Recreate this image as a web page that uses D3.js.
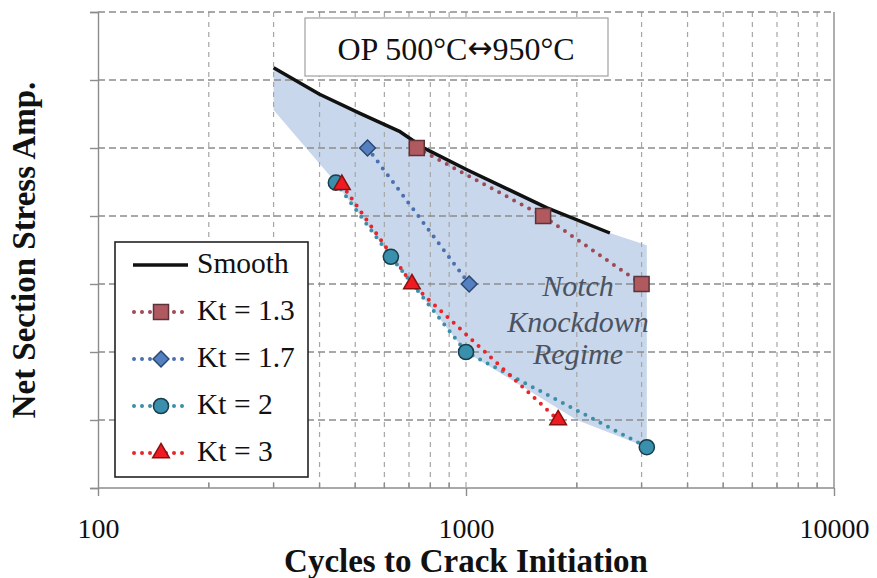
<!DOCTYPE html>
<html><head><meta charset="utf-8">
<script src="https://cdn.jsdelivr.net/npm/d3@7"></script>
<style>body{margin:0;background:#fff}svg{display:block}</style>
</head><body><svg id="c" width="877" height="578"></svg>
<script>
// ---- data ----
const xTickLabels = [100, 1000, 10000];
const yTicks = [0, 1, 2, 3, 4, 5, 6, 7];
const smoothN = [300, 400, 515, 662, 774, 1006, 1660, 2460];
const smoothS = [6.18, 5.79, 5.51, 5.24, 4.99, 4.68, 4.12, 3.75];
const kt13N = [735, 1620, 3000];
const kt13S = [5.0, 4.0, 3.0];
const kt17N = [540, 1020];
const kt17S = [5.0, 3.0];
const kt2N = [443, 625, 1000, 3100];
const kt2S = [4.49, 3.40, 2.0, 0.60];
const kt3N = [460, 713, 1780];
const kt3S = [4.46, 3.0, 1.0];
const regimeN = [300, 300, 443, 625, 1000, 2000, 3100, 3100, 2460, 1660, 1006, 774, 662, 515, 400];
const regimeS = [6.18, 5.56, 4.49, 3.40, 2.0, 1.0, 0.60, 3.57, 3.75, 4.12, 4.68, 4.99, 5.24, 5.51, 5.79];
const seriesNames = ["Smooth", "Kt = 1.3", "Kt = 1.7", "Kt = 2", "Kt = 3"];
const titleParts = ["OP 500°C", "↔", "950°C"];
const regimeText = ["Notch", "Knockdown", "Regime"];
const xLabel = "Cycles to Crack Initiation";
const yLabel = "Net Section Stress Amp.";

const svg = d3.select("#c");
const L = 98, R = 834, T = 12, B = 488;
const x = d3.scaleLog().domain([100, 10000]).range([L, R]);
const y = d3.scaleLinear().domain([0, 7]).range([B, T]);
const serif = "'Liberation Serif','Times New Roman',serif";

// shaded regime
const zip = (a, b) => a.map((v, i) => [v, b[i]]);
const line = d3.line().x(d => x(d[0])).y(d => y(d[1]));
svg.append("path").attr("d", line(zip(regimeN, regimeS)) + "Z")
  .attr("fill", "#c8d7eb").attr("stroke", "none");

// grid
const minor = [];
[100, 1000].forEach(dec => { for (let k = 2; k <= 9; k++) minor.push(dec * k); });
minor.push(1000);
svg.append("g").selectAll("line").data(minor).join("line")
  .attr("x1", d => x(d)).attr("x2", d => x(d)).attr("y1", T).attr("y2", B)
  .attr("stroke", "#a6a6a6").attr("stroke-width", 1.2).attr("stroke-dasharray", "5,5");
svg.append("g").selectAll("line").data(yTicks.slice(1)).join("line")
  .attr("x1", L).attr("x2", R).attr("y1", d => y(d)).attr("y2", d => y(d))
  .attr("stroke", "#8c8c8c").attr("stroke-width", 1.4).attr("stroke-dasharray", "7,4");
// right border
svg.append("line").attr("x1", R).attr("x2", R).attr("y1", T).attr("y2", B)
  .attr("stroke", "#8c8c8c").attr("stroke-width", 1.4);

// axes
const yAxis = d3.axisLeft(y).tickValues(yTicks).tickSize(8).tickFormat("");
const gy = svg.append("g").attr("transform", `translate(${L},0)`).call(yAxis);
gy.selectAll("path,line").attr("stroke", "#8c8c8c").attr("stroke-width", 1.4);
const xAxis = d3.axisBottom(x).tickValues(xTickLabels).tickSize(8).tickFormat(d3.format("d")).tickPadding(22);
const gx = svg.append("g").attr("transform", `translate(0,${B})`).call(xAxis);
gx.select(".domain").attr("d", `M${L},0H${R}`);
gx.selectAll("path,line").attr("stroke", "#8c8c8c").attr("stroke-width", 1.4);
gx.selectAll("text").attr("font-family", serif).attr("font-size", 28).attr("fill", "#111");
// minor ticks inside
svg.append("g").selectAll("line").data(minor.filter(d => d !== 1000)).join("line")
  .attr("x1", d => x(d)).attr("x2", d => x(d)).attr("y1", B).attr("y2", B - 5)
  .attr("stroke", "#8c8c8c").attr("stroke-width", 1.4);

// title box
svg.append("rect").attr("x", 305).attr("y", 18).attr("width", 303).attr("height", 58)
  .attr("fill", "#fff").attr("stroke", "#a0a0a0").attr("stroke-width", 1.2);
const tt = svg.append("text").attr("x", 456).attr("y", 60).attr("text-anchor", "middle")
  .attr("font-family", serif).attr("font-size", 32).attr("fill", "#111");
tt.append("tspan").text(titleParts[0]);
tt.append("tspan").attr("font-family", "'DejaVu Sans'").attr("font-size", 30).attr("dy", -2).text(titleParts[1]);
tt.append("tspan").attr("dy", 2).text(titleParts[2]);

// smooth line
svg.append("path").attr("d", line(zip(smoothN, smoothS))).attr("fill", "none")
  .attr("stroke", "#111").attr("stroke-width", 3.5).attr("stroke-linejoin", "round");

// series
const diamond = {draw(ctx, size) { const r = Math.sqrt(size / 2); ctx.moveTo(0, -r); ctx.lineTo(r, 0); ctx.lineTo(0, r); ctx.lineTo(-r, 0); ctx.closePath(); }};
const series = [
  {name: seriesNames[1], N: kt13N, S: kt13S, line: "#9e4a55", fill: "#b05a60", stroke: "#5c3338", shape: d3.symbolSquare, size: 225},
  {name: seriesNames[2], N: kt17N, S: kt17S, line: "#4a70b0", fill: "#5580c0", stroke: "#2a4775", shape: diamond, size: 125},
  {name: seriesNames[3], N: kt2N, S: kt2S, line: "#3b8fa8", fill: "#3a8fac", stroke: "#173e4c", shape: d3.symbolCircle, size: 180},
  {name: seriesNames[4], N: kt3N, S: kt3S, line: "#e8262a", fill: "#ee1c22", stroke: "#8a1010", shape: d3.symbolTriangle, size: 120}
];
series.forEach(s => {
  svg.append("path").attr("d", line(zip(s.N, s.S))).attr("fill", "none")
    .attr("stroke", s.line).attr("stroke-width", 4).attr("stroke-linecap", "round")
    .attr("stroke-dasharray", "0,8.5");
});
series.forEach(s => {
  svg.append("g").selectAll("path").data(zip(s.N, s.S)).join("path")
    .attr("transform", d => `translate(${x(d[0])},${y(d[1])})`)
    .attr("d", d3.symbol().type(s.shape).size(s.size))
    .attr("fill", s.fill).attr("stroke", s.stroke).attr("stroke-width", 1.5);
});

// regime text
svg.append("g").selectAll("text").data(regimeText).join("text")
  .attr("x", 578).attr("y", (d, i) => [296, 332, 364][i]).attr("text-anchor", "middle")
  .attr("font-family", serif).attr("font-style", "italic").attr("font-size", 30)
  .attr("fill", "#4b5260").text(d => d);

// legend
const lg = svg.append("g");
lg.append("rect").attr("x", 115).attr("y", 242).attr("width", 193).attr("height", 235)
  .attr("fill", "#fff").attr("stroke", "#222").attr("stroke-width", 1.6);
const ly = i => 265 + i * 47;
lg.append("line").attr("x1", 133).attr("x2", 188).attr("y1", ly(0)).attr("y2", ly(0))
  .attr("stroke", "#111").attr("stroke-width", 3.5);
series.forEach((s, i) => {
  lg.append("line").attr("x1", 134).attr("x2", 188).attr("y1", ly(i + 1)).attr("y2", ly(i + 1))
    .attr("stroke", s.line).attr("stroke-width", 4).attr("stroke-linecap", "round")
    .attr("stroke-dasharray", "0,8");
  lg.append("path").attr("transform", `translate(161,${ly(i + 1)})`)
    .attr("d", d3.symbol().type(s.shape).size(s.size))
    .attr("fill", s.fill).attr("stroke", s.stroke).attr("stroke-width", 1.5);
});
lg.selectAll("text.l").data(seriesNames).join("text").attr("class", "l")
  .attr("x", 197).attr("y", (d, i) => ly(i) + 8)
  .attr("font-family", serif).attr("font-size", 29.5).attr("fill", "#111").text(d => d);

// axis labels
svg.append("text").attr("x", 466).attr("y", 572).attr("text-anchor", "middle")
  .attr("font-family", serif).attr("font-weight", "bold").attr("font-size", 33)
  .attr("fill", "#111").text(xLabel);
svg.append("text").attr("transform", "translate(35,250) rotate(-90)").attr("text-anchor", "middle")
  .attr("font-family", serif).attr("font-weight", "bold").attr("font-size", 33)
  .attr("fill", "#111").text(yLabel);
</script></body></html>
